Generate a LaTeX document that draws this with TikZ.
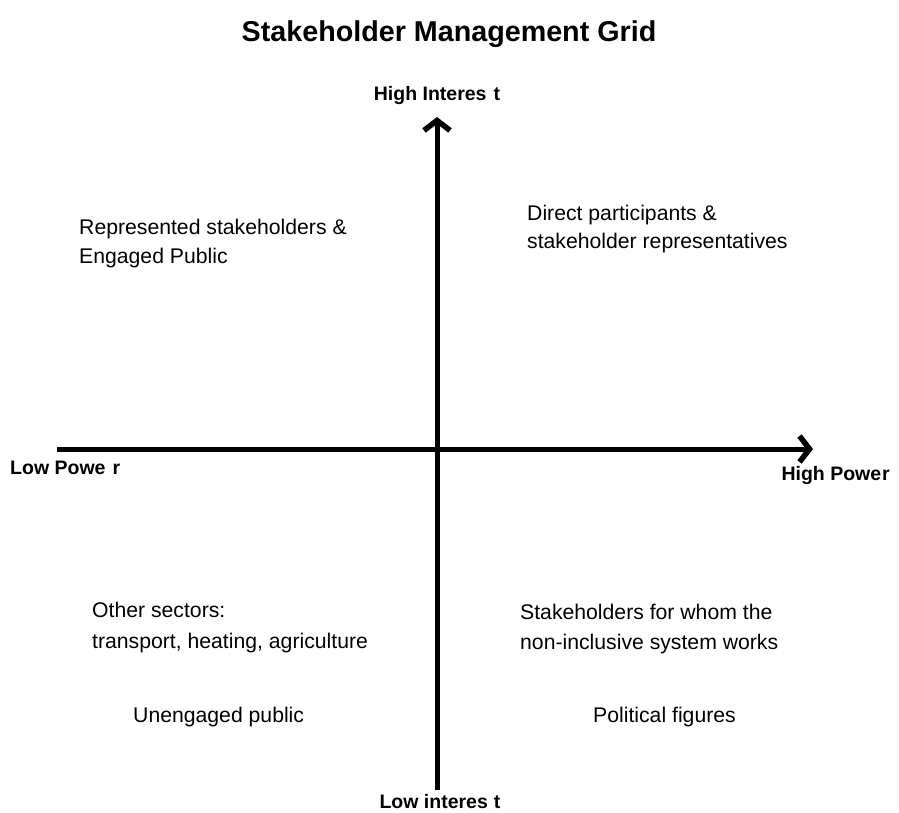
\documentclass[tikz,border=0pt]{standalone}
\usepackage{fontspec}
\setmainfont{Liberation Sans}
\usetikzlibrary{arrows.meta}
\tikzset{
  axis/.style={line width=5pt, -{Straight Barb[length=10pt,width=26pt,line width=5.5pt]}},
  axislabel/.style={font=\bfseries\fontsize{19.5}{22}\selectfont, inner sep=0pt},
  quadtext/.style={font=\fontsize{21.2}{29}\selectfont, inner sep=0pt, align=left},
  titletext/.style={font=\bfseries\fontsize{28.7}{32}\selectfont, inner sep=0pt}
}
\begin{document}
\begin{tikzpicture}[x=1pt,y=-1pt]
\useasboundingbox (0,0) rectangle (899,813);
\fill[white] (0,0) rectangle (899,813);
% axis endpoints
\coordinate (bottom) at (437,790);
\coordinate (top) at (437,117);
\coordinate (left) at (57,449);
\coordinate (right) at (813,449);
\draw[axis] (bottom) -- (top);
\draw[axis] (left) -- (right);
% title
\node[titletext, anchor=base] (title) at (449,42) {Stakeholder Management Grid};
% axis labels
\node[axislabel, anchor=base] (hi) at (437,101) {High Interes\hspace{7pt}t};
\node[axislabel, anchor=base] (li) at (440,808) {Low interes\hspace{6pt}t};
\node[axislabel, anchor=base west] (lp) at (10,474) {Low Powe\hspace{7pt}r};
\node[axislabel, anchor=base east] (hp) at (890,480) {High Powe\kern1pt r};
% quadrant texts
\node[quadtext, anchor=base west] (q1a) at (79,234) {Represented stakeholders \&};
\node[quadtext, anchor=base west] (q1b) at (79,263) {Engaged Public};
\node[quadtext, anchor=base west] (q2a) at (527,220) {Direct participants \&};
\node[quadtext, anchor=base west] (q2b) at (527,248) {stakeholder representatives};
\node[quadtext, anchor=base west] (q3a) at (92,617) {Other sectors:};
\node[quadtext, anchor=base west] (q3b) at (92,648) {transport, heating, agriculture};
\node[quadtext, anchor=base west] (q3c) at (133,722) {Unengaged public};
\node[quadtext, anchor=base west] (q4a) at (520,619) {Stakeholders for whom the};
\node[quadtext, anchor=base west] (q4b) at (520,649) {non-inclusive system works};
\node[quadtext, anchor=base west] (q4c) at (593,722) {Political figures};
\end{tikzpicture}
\end{document}
